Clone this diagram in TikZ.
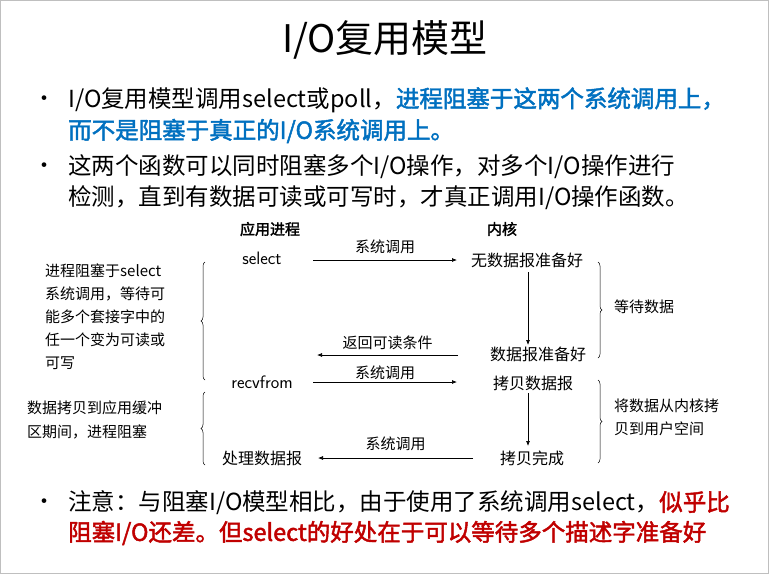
\documentclass[tikz,border=0pt]{standalone}
\usepackage{fontspec}
\setmainfont{Liberation Serif}
\newfontfamily\cjk[AutoFakeBold=2]{Noto Sans CJK SC}
\usetikzlibrary{decorations.pathreplacing,arrows.meta}
\definecolor{myblue}{RGB}{0,112,192}
\definecolor{myred}{RGB}{192,0,0}
\begin{document}
\begin{tikzpicture}[x=1pt,y=-1pt,
  bul/.style={anchor=west,inner sep=0pt,font=\fontsize{23.5}{27}\selectfont\cjk},
  dot/.style={inner sep=0pt,font=\fontsize{22}{26}\selectfont\cjk},
  lab/.style={inner sep=0pt,font=\fontsize{16}{19}\selectfont\cjk},
  sm/.style={inner sep=0pt,font=\fontsize{15}{18}\selectfont\cjk},
  arr/.style={-{Latex[length=5pt,width=4pt]},line width=0.7pt},
  br/.style={decorate,decoration={brace,amplitude=4pt},line width=0.5pt}]
\useasboundingbox (0,0) rectangle (769,574);
\fill[white] (0,0) rectangle (769,574);
\draw[gray!50] (0.5,0.5) rectangle (768.5,573.5);
\node[inner sep=0pt,font=\fontsize{38}{42}\selectfont\cjk] (title) at (385,40) {I/O复用模型};
% bullets
\node[dot] (b1) at (44,101) {•};
\node[bul] (l1) at (68,100) {I/O复用模型调用select或poll，\textcolor{myblue}{\bfseries 进程阻塞于这两个系统调用上，}};
\node[bul,text=myblue] (l2) at (68,131) {\bfseries 而不是阻塞于真正的I/O系统调用上。};
\node[dot] (b2) at (44,168) {•};
\node[bul] (l3) at (68,167) {这两个函数可以同时阻塞多个I/O操作，对多个I/O操作进行};
\node[bul] (l4) at (68,198) {检测，直到有数据可读或可写时，才真正调用I/O操作函数。};
\node[dot] (b3) at (44,504) {•};
\node[bul] (l5) at (68,503) {注意：与阻塞I/O模型相比，由于使用了系统调用select，\textcolor{myred}{\bfseries 似乎比}};
\node[bul,text=myred] (l6) at (68,533) {\bfseries 阻塞I/O还差。但select的好处在于可以等待多个描述字准备好};
% diagram
\node[sm] (h1) at (270,229) {\bfseries 应用进程};
\node[sm] (h2) at (502,229) {\bfseries 内核};
\node[lab,font=\fontsize{18}{20}\selectfont\sffamily] (sel) at (262,258) {select};
\node[lab] (k1) at (527,260) {无数据报准备好};
\node[lab] (k2) at (538,354) {数据报准备好};
\node[lab,font=\fontsize{18}{20}\selectfont\sffamily] (rec) at (262,382) {recvfrom};
\node[lab] (k3) at (533,383) {拷贝数据报};
\node[lab] (k4) at (532,458) {拷贝完成};
\node[lab] (app) at (262,458) {处理数据报};
\coordinate (a1s) at (313,260); \coordinate (a1e) at (457,260);
\draw[arr] (a1s) -- node[sm,above=6pt] (t1) {系统调用} (a1e);
\coordinate (a2s) at (458,355); \coordinate (a2e) at (317,355);
\draw[arr] (a2s) -- node[sm,above=5pt] (t2) {返回可读条件} (a2e);
\coordinate (a3s) at (313,382); \coordinate (a3e) at (457,382);
\draw[arr] (a3s) -- node[sm,above=2pt] (t3) {系统调用} (a3e);
\coordinate (a4s) at (473,458); \coordinate (a4e) at (318,458);
\draw[arr] (a4s) -- node[sm,above=7pt] (t4) {系统调用} (a4e);
\draw[arr] (528,272) -- (528,345);
\draw[arr] (528,393) -- (528,446);
% braces
\draw[br] (598,262) -- (598,358);
\draw[br] (598,380) -- (598,463);
\draw[br] (205,380) -- (205,262);
\draw[br] (205,465) -- (205,392);
\node[sm,anchor=west] (w) at (614,307) {等待数据};
\node[sm,anchor=north west,align=left,font=\fontsize{15}{23}\selectfont\cjk] (cp) at (614,399) {将数据从内核拷\\贝到用户空间};
\node[sm,anchor=north west,align=left,font=\fontsize{15}{23}\selectfont\cjk] (lt) at (45,264) {进程阻塞于select\\系统调用，等待可\\能多个套接字中的\\任一个变为可读或\\可写};
\node[sm,anchor=north west,align=left,font=\fontsize{15}{24}\selectfont\cjk] (lt2) at (27,401) {数据拷贝到应用缓冲\\区期间，进程阻塞};
\end{tikzpicture}
\end{document}
